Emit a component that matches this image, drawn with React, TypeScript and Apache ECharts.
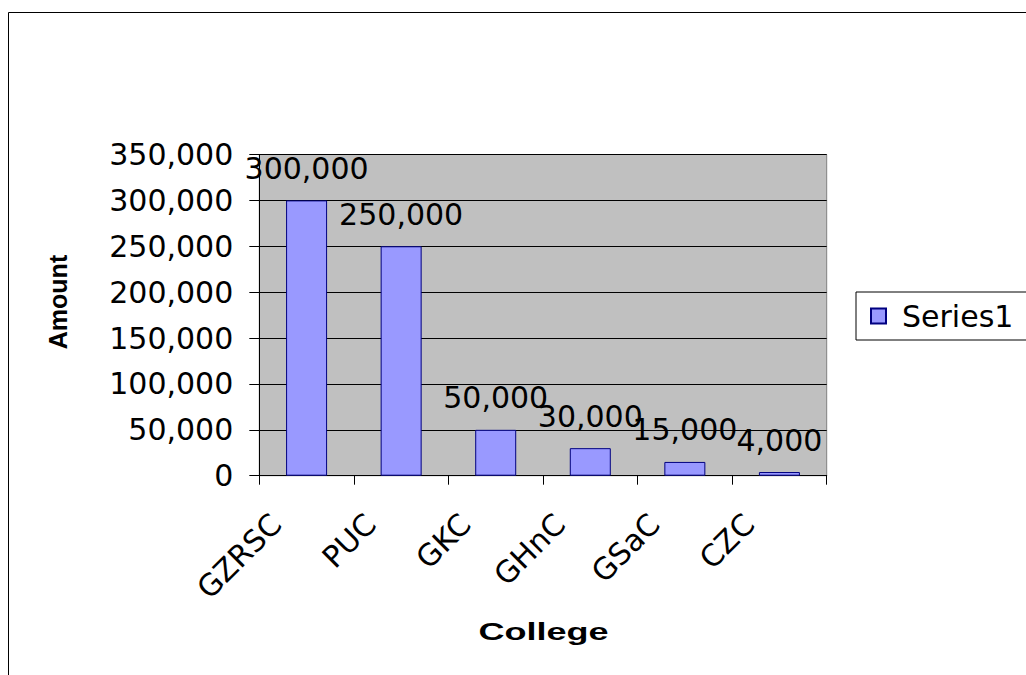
import React, { useEffect, useRef } from "react";
import * as echarts from "echarts";

// College funding amounts
const categories = ["GZRSC", "PUC", "GKC", "GHnC", "GSaC", "CZC"];
const amounts = [300000, 250000, 50000, 30000, 15000, 4000];
const seriesName = "Series1";
const yMin = 0;
const yMax = 350000;
const yStep = 50000;
const xTitle = "College";
const yTitle = "Amount";

const withCommas = (v: number) =>
  String(v).replace(/\B(?=(\d{3})+(?!\d))/g, ",");

const NUM_FONT = '"DejaVu Sans", sans-serif';
const TITLE_FONT = '"Liberation Sans", Arial, sans-serif';

export default function App() {
  const ref = useRef<HTMLDivElement>(null);

  useEffect(() => {
    if (!ref.current) return;
    const chart = echarts.init(ref.current, null, { renderer: "svg" });
    chart.setOption({
      animation: false,
      backgroundColor: "#ffffff",
      graphic: [
        {
          type: "rect",
          shape: { x: 8.5, y: 12.5, width: 2000, height: 2000 },
          style: { fill: "none", stroke: "#000000", lineWidth: 1 },
          z: 0,
        },
        {
          type: "text",
          x: 543.5,
          y: 631,
          scaleX: 1.5,
          style: {
            text: xTitle,
            font: `bold 24px ${TITLE_FONT}`,
            fill: "#000",
            align: "center",
            verticalAlign: "middle",
          },
        },
        {
          type: "text",
          x: 58,
          y: 302,
          rotation: Math.PI / 2,
          style: {
            text: yTitle,
            font: `bold 25px ${TITLE_FONT}`,
            fill: "#000",
            align: "center",
            verticalAlign: "middle",
          },
        },
      ],
      legend: {
        left: 856,
        top: 292,
        orient: "vertical",
        data: [seriesName],
        icon: "rect",
        itemWidth: 15,
        itemHeight: 15,
        padding: [8, 40, 8, 14],
        borderColor: "#000000",
        borderWidth: 1,
        backgroundColor: "#ffffff",
        textStyle: {
          fontFamily: NUM_FONT,
          fontSize: 30,
          color: "#000",
          lineHeight: 32,
          padding: [0, 0, 0, 11],
        },
      },
      grid: {
        left: 259.3,
        top: 154.5,
        width: 567.4,
        height: 321.2,
        show: true,
        backgroundColor: "#C0C0C0",
        borderColor: "#808080",
        borderWidth: 1,
        containLabel: false,
      },
      xAxis: {
        type: "category",
        data: categories,
        boundaryGap: true,
        axisLine: { show: true, lineStyle: { color: "#000", width: 1 } },
        axisTick: {
          show: true,
          length: 9,
          lineStyle: { color: "#000", width: 1 },
        },
        axisLabel: {
          rotate: 45,
          margin: 13,
          padding: [0, 43, 0, 0],
          fontFamily: NUM_FONT,
          fontSize: 30,
          color: "#000",
        },
        splitLine: { show: false },
      },
      yAxis: {
        type: "value",
        min: yMin,
        max: yMax,
        interval: yStep,
        axisLine: { show: true, lineStyle: { color: "#000", width: 1 } },
        axisTick: {
          show: true,
          length: 10,
          lineStyle: { color: "#000", width: 1 },
        },
        axisLabel: {
          margin: 26,
          fontFamily: NUM_FONT,
          fontSize: 30,
          color: "#000",
          formatter: (v: number) => withCommas(v),
        },
        splitLine: { show: true, lineStyle: { color: "#000", width: 1 } },
      },
      series: [
        {
          name: seriesName,
          type: "bar",
          data: amounts,
          barWidth: 41,
          itemStyle: {
            color: "#9999FF",
            borderColor: "#000080",
            borderWidth: 1,
          },
          label: {
            show: true,
            position: "top",
            distance: 17,
            fontFamily: NUM_FONT,
            fontSize: 30,
            color: "#000",
            formatter: (p: any) => withCommas(p.value),
          },
        },
      ],
    });
    return () => chart.dispose();
  }, []);

  return (
    <div
      ref={ref}
      style={{ position: "fixed", left: 0, top: 0, width: 1026, height: 675 }}
    />
  );
}
